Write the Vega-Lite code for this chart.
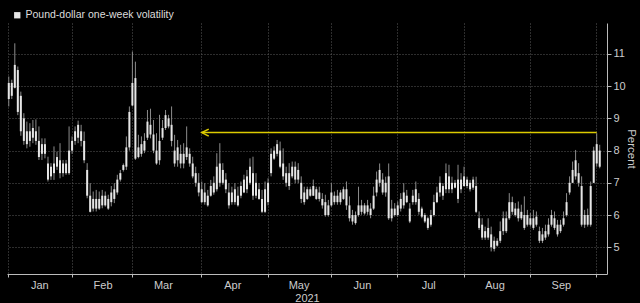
{
"$schema": "https://vega.github.io/schema/vega-lite/v6.json",
"width": 600, "height": 251,
"autosize": {"type": "none"},
"padding": {"left": 7, "top": 23, "right": 33, "bottom": 29},
"background": "#000000",
"config": {"view": {"stroke": null}, "font": "Liberation Sans"},
"datasets": {
"vol": [
{"d":"2021-01-01","l":9.37,"h":10.3,"o":9.6,"c":10.1},
{"d":"2021-01-04","l":9.6,"h":10.2,"o":9.7,"c":10.1},
{"d":"2021-01-05","l":9.93,"h":11.33,"o":9.95,"c":10.66},
{"d":"2021-01-06","l":9.1,"h":10.61,"o":9.2,"c":10.5},
{"d":"2021-01-07","l":8.46,"h":9.83,"o":8.6,"c":9.7},
{"d":"2021-01-08","l":8.18,"h":9.16,"o":8.3,"c":9.0},
{"d":"2021-01-11","l":8.07,"h":8.9,"o":8.2,"c":8.6},
{"d":"2021-01-12","l":8.12,"h":8.85,"o":8.3,"c":8.6},
{"d":"2021-01-13","l":8.23,"h":8.95,"o":8.4,"c":8.7},
{"d":"2021-01-14","l":8.18,"h":8.97,"o":8.3,"c":8.6},
{"d":"2021-01-15","l":7.71,"h":8.75,"o":7.8,"c":8.3},
{"d":"2021-01-18","l":7.71,"h":8.38,"o":7.9,"c":8.2},
{"d":"2021-01-19","l":7.76,"h":8.38,"o":7.9,"c":8.2},
{"d":"2021-01-20","l":7.04,"h":7.81,"o":7.1,"c":7.6},
{"d":"2021-01-21","l":7.09,"h":7.61,"o":7.2,"c":7.5},
{"d":"2021-01-22","l":7.09,"h":8.13,"o":7.3,"c":7.6},
{"d":"2021-01-25","l":7.4,"h":7.97,"o":7.5,"c":7.8},
{"d":"2021-01-26","l":7.14,"h":8.23,"o":7.3,"c":7.7},
{"d":"2021-01-27","l":7.19,"h":7.71,"o":7.3,"c":7.6},
{"d":"2021-01-28","l":7.25,"h":7.71,"o":7.3,"c":7.6},
{"d":"2021-01-29","l":7.25,"h":8.75,"o":7.3,"c":8.0},
{"d":"2021-02-01","l":7.9,"h":8.44,"o":8.0,"c":8.3},
{"d":"2021-02-02","l":8.18,"h":8.75,"o":8.3,"c":8.6},
{"d":"2021-02-03","l":8.23,"h":8.93,"o":8.4,"c":8.8},
{"d":"2021-02-04","l":8.13,"h":8.8,"o":8.3,"c":8.6},
{"d":"2021-02-05","l":7.61,"h":8.59,"o":7.7,"c":8.3},
{"d":"2021-02-08","l":6.52,"h":7.61,"o":6.6,"c":7.4},
{"d":"2021-02-09","l":6.08,"h":6.99,"o":6.1,"c":6.6},
{"d":"2021-02-10","l":6.11,"h":6.73,"o":6.2,"c":6.5},
{"d":"2021-02-11","l":6.11,"h":6.78,"o":6.2,"c":6.5},
{"d":"2021-02-12","l":6.16,"h":6.73,"o":6.2,"c":6.5},
{"d":"2021-02-15","l":6.21,"h":6.78,"o":6.3,"c":6.6},
{"d":"2021-02-16","l":6.26,"h":6.73,"o":6.3,"c":6.6},
{"d":"2021-02-17","l":6.16,"h":6.63,"o":6.2,"c":6.5},
{"d":"2021-02-18","l":6.27,"h":6.9,"o":6.4,"c":6.7},
{"d":"2021-02-19","l":6.37,"h":6.99,"o":6.5,"c":6.8},
{"d":"2021-02-22","l":6.63,"h":7.25,"o":6.7,"c":7.1},
{"d":"2021-02-23","l":7.04,"h":7.4,"o":7.1,"c":7.3},
{"d":"2021-02-24","l":7.35,"h":7.6,"o":7.4,"c":7.55},
{"d":"2021-02-25","l":7.4,"h":8.44,"o":7.5,"c":8.1},
{"d":"2021-02-26","l":8.0,"h":9.37,"o":8.1,"c":9.2},
{"d":"2021-03-01","l":9.37,"h":11.07,"o":9.4,"c":10.1},
{"d":"2021-03-02","l":7.71,"h":10.76,"o":7.75,"c":10.25},
{"d":"2021-03-03","l":7.76,"h":8.49,"o":7.8,"c":8.1},
{"d":"2021-03-04","l":7.81,"h":8.44,"o":7.9,"c":8.2},
{"d":"2021-03-05","l":7.92,"h":8.54,"o":8.0,"c":8.3},
{"d":"2021-03-08","l":8.33,"h":9.26,"o":8.4,"c":8.9},
{"d":"2021-03-09","l":8.38,"h":9.3,"o":8.5,"c":8.8},
{"d":"2021-03-10","l":7.92,"h":8.95,"o":8.0,"c":8.5},
{"d":"2021-03-11","l":7.56,"h":8.54,"o":7.6,"c":8.0},
{"d":"2021-03-12","l":7.56,"h":9.11,"o":7.7,"c":8.3},
{"d":"2021-03-15","l":8.33,"h":8.95,"o":8.4,"c":8.7},
{"d":"2021-03-16","l":8.64,"h":9.26,"o":8.7,"c":9.1},
{"d":"2021-03-17","l":8.69,"h":9.11,"o":8.75,"c":9.0},
{"d":"2021-03-18","l":8.13,"h":9.37,"o":8.3,"c":8.8},
{"d":"2021-03-19","l":7.5,"h":8.49,"o":7.6,"c":8.0},
{"d":"2021-03-22","l":7.5,"h":8.33,"o":7.7,"c":8.1},
{"d":"2021-03-23","l":7.45,"h":8.18,"o":7.6,"c":7.9},
{"d":"2021-03-24","l":7.45,"h":8.23,"o":7.6,"c":7.9},
{"d":"2021-03-25","l":7.71,"h":8.75,"o":7.8,"c":8.1},
{"d":"2021-03-26","l":7.5,"h":8.07,"o":7.6,"c":7.9},
{"d":"2021-03-29","l":7.14,"h":7.81,"o":7.2,"c":7.6},
{"d":"2021-03-30","l":6.88,"h":7.5,"o":7.0,"c":7.3},
{"d":"2021-03-31","l":6.58,"h":7.3,"o":6.7,"c":7.0},
{"d":"2021-04-01","l":6.37,"h":7.04,"o":6.4,"c":6.8},
{"d":"2021-04-02","l":6.32,"h":6.99,"o":6.4,"c":6.7},
{"d":"2021-04-05","l":6.26,"h":6.78,"o":6.3,"c":6.6},
{"d":"2021-04-06","l":6.57,"h":7.09,"o":6.6,"c":6.9},
{"d":"2021-04-07","l":6.63,"h":7.2,"o":6.7,"c":7.0},
{"d":"2021-04-08","l":6.73,"h":7.92,"o":6.8,"c":7.5},
{"d":"2021-04-09","l":6.88,"h":8.23,"o":7.0,"c":7.6},
{"d":"2021-04-12","l":6.94,"h":7.61,"o":7.0,"c":7.4},
{"d":"2021-04-13","l":6.68,"h":7.3,"o":6.8,"c":7.1},
{"d":"2021-04-14","l":6.2,"h":6.99,"o":6.3,"c":6.7},
{"d":"2021-04-15","l":6.32,"h":6.88,"o":6.4,"c":6.7},
{"d":"2021-04-16","l":6.32,"h":6.99,"o":6.4,"c":6.8},
{"d":"2021-04-19","l":6.26,"h":6.88,"o":6.3,"c":6.6},
{"d":"2021-04-20","l":6.52,"h":7.04,"o":6.6,"c":6.9},
{"d":"2021-04-21","l":6.68,"h":7.25,"o":6.7,"c":7.1},
{"d":"2021-04-22","l":6.68,"h":7.4,"o":6.8,"c":7.2},
{"d":"2021-04-23","l":6.94,"h":7.76,"o":7.0,"c":7.5},
{"d":"2021-04-26","l":6.47,"h":7.81,"o":6.6,"c":7.3},
{"d":"2021-04-27","l":6.52,"h":7.3,"o":6.6,"c":7.0},
{"d":"2021-04-28","l":6.47,"h":6.99,"o":6.5,"c":6.8},
{"d":"2021-04-29","l":6.06,"h":6.78,"o":6.1,"c":6.5},
{"d":"2021-04-30","l":6.06,"h":7.04,"o":6.1,"c":6.8},
{"d":"2021-05-03","l":6.3,"h":7.14,"o":6.4,"c":7.0},
{"d":"2021-05-04","l":7.2,"h":8.07,"o":7.3,"c":7.9},
{"d":"2021-05-05","l":7.71,"h":8.13,"o":7.75,"c":8.0},
{"d":"2021-05-06","l":7.82,"h":8.33,"o":7.9,"c":8.2},
{"d":"2021-05-07","l":7.45,"h":8.28,"o":7.5,"c":8.0},
{"d":"2021-05-10","l":7.09,"h":8.07,"o":7.2,"c":7.6},
{"d":"2021-05-11","l":6.88,"h":7.5,"o":7.0,"c":7.3},
{"d":"2021-05-12","l":6.78,"h":7.61,"o":6.9,"c":7.3},
{"d":"2021-05-13","l":7.14,"h":7.66,"o":7.2,"c":7.5},
{"d":"2021-05-14","l":6.99,"h":7.66,"o":7.1,"c":7.5},
{"d":"2021-05-17","l":6.99,"h":7.61,"o":7.1,"c":7.4},
{"d":"2021-05-18","l":6.37,"h":7.2,"o":6.5,"c":7.0},
{"d":"2021-05-19","l":6.32,"h":6.88,"o":6.4,"c":6.7},
{"d":"2021-05-20","l":6.47,"h":6.88,"o":6.5,"c":6.8},
{"d":"2021-05-21","l":6.57,"h":6.88,"o":6.6,"c":6.8},
{"d":"2021-05-24","l":6.59,"h":7.1,"o":6.6,"c":6.9},
{"d":"2021-05-25","l":6.47,"h":6.88,"o":6.5,"c":6.8},
{"d":"2021-05-26","l":6.42,"h":6.88,"o":6.5,"c":6.7},
{"d":"2021-05-27","l":6.2,"h":6.68,"o":6.3,"c":6.5},
{"d":"2021-05-28","l":5.95,"h":6.63,"o":6.0,"c":6.4},
{"d":"2021-05-31","l":5.95,"h":6.47,"o":6.0,"c":6.3},
{"d":"2021-06-01","l":6.26,"h":6.99,"o":6.3,"c":6.7},
{"d":"2021-06-02","l":6.32,"h":6.73,"o":6.4,"c":6.6},
{"d":"2021-06-03","l":6.32,"h":6.78,"o":6.4,"c":6.6},
{"d":"2021-06-04","l":6.32,"h":6.78,"o":6.4,"c":6.7},
{"d":"2021-06-07","l":6.47,"h":6.88,"o":6.5,"c":6.8},
{"d":"2021-06-08","l":6.16,"h":7.04,"o":6.3,"c":6.8},
{"d":"2021-06-09","l":5.8,"h":6.58,"o":5.9,"c":6.3},
{"d":"2021-06-10","l":5.7,"h":6.16,"o":5.8,"c":6.0},
{"d":"2021-06-11","l":5.7,"h":6.11,"o":5.75,"c":6.0},
{"d":"2021-06-14","l":5.95,"h":6.88,"o":6.0,"c":6.3},
{"d":"2021-06-15","l":6.01,"h":6.47,"o":6.1,"c":6.3},
{"d":"2021-06-16","l":6.01,"h":6.37,"o":6.05,"c":6.3},
{"d":"2021-06-17","l":6.01,"h":6.47,"o":6.1,"c":6.3},
{"d":"2021-06-18","l":5.9,"h":6.37,"o":6.0,"c":6.2},
{"d":"2021-06-21","l":6.16,"h":6.88,"o":6.2,"c":6.6},
{"d":"2021-06-22","l":6.58,"h":7.35,"o":6.7,"c":7.1},
{"d":"2021-06-23","l":6.88,"h":7.6,"o":7.0,"c":7.4},
{"d":"2021-06-24","l":6.63,"h":7.3,"o":6.7,"c":7.1},
{"d":"2021-06-25","l":6.57,"h":7.19,"o":6.7,"c":7.0},
{"d":"2021-06-28","l":5.85,"h":7.6,"o":5.9,"c":7.2},
{"d":"2021-06-29","l":5.8,"h":6.47,"o":5.9,"c":6.2},
{"d":"2021-06-30","l":5.95,"h":6.37,"o":6.0,"c":6.2},
{"d":"2021-07-01","l":5.95,"h":6.42,"o":6.0,"c":6.3},
{"d":"2021-07-02","l":6.11,"h":6.68,"o":6.2,"c":6.5},
{"d":"2021-07-05","l":6.2,"h":6.99,"o":6.3,"c":6.7},
{"d":"2021-07-06","l":6.37,"h":6.78,"o":6.4,"c":6.6},
{"d":"2021-07-07","l":5.75,"h":6.37,"o":5.8,"c":6.2},
{"d":"2021-07-08","l":6.32,"h":6.78,"o":6.4,"c":6.6},
{"d":"2021-07-09","l":6.32,"h":7.04,"o":6.4,"c":6.8},
{"d":"2021-07-12","l":6.01,"h":6.68,"o":6.1,"c":6.5},
{"d":"2021-07-13","l":5.9,"h":6.26,"o":5.95,"c":6.2},
{"d":"2021-07-14","l":5.75,"h":6.06,"o":5.8,"c":6.0},
{"d":"2021-07-15","l":5.54,"h":5.95,"o":5.6,"c":5.9},
{"d":"2021-07-16","l":5.64,"h":6.16,"o":5.7,"c":6.0},
{"d":"2021-07-19","l":5.95,"h":6.63,"o":6.0,"c":6.4},
{"d":"2021-07-20","l":6.37,"h":6.88,"o":6.4,"c":6.7},
{"d":"2021-07-21","l":6.57,"h":7.2,"o":6.7,"c":7.0},
{"d":"2021-07-22","l":6.47,"h":6.99,"o":6.6,"c":6.9},
{"d":"2021-07-23","l":6.68,"h":7.6,"o":6.8,"c":7.3},
{"d":"2021-07-26","l":6.68,"h":7.56,"o":6.8,"c":7.2},
{"d":"2021-07-27","l":6.68,"h":7.19,"o":6.8,"c":7.0},
{"d":"2021-07-28","l":6.83,"h":7.09,"o":6.85,"c":7.0},
{"d":"2021-07-29","l":6.37,"h":7.56,"o":6.5,"c":7.1},
{"d":"2021-07-30","l":6.68,"h":7.3,"o":6.8,"c":7.1},
{"d":"2021-08-02","l":6.88,"h":7.5,"o":6.9,"c":7.2},
{"d":"2021-08-03","l":6.83,"h":7.19,"o":6.9,"c":7.1},
{"d":"2021-08-04","l":6.73,"h":7.09,"o":6.8,"c":7.0},
{"d":"2021-08-05","l":6.78,"h":7.19,"o":6.85,"c":7.1},
{"d":"2021-08-06","l":6.06,"h":7.19,"o":6.1,"c":6.9},
{"d":"2021-08-09","l":5.54,"h":6.11,"o":5.6,"c":5.9},
{"d":"2021-08-10","l":5.23,"h":5.9,"o":5.3,"c":5.7},
{"d":"2021-08-11","l":5.23,"h":5.64,"o":5.3,"c":5.5},
{"d":"2021-08-12","l":5.23,"h":5.9,"o":5.3,"c":5.6},
{"d":"2021-08-13","l":4.87,"h":5.64,"o":5.0,"c":5.4},
{"d":"2021-08-16","l":4.87,"h":5.33,"o":4.95,"c":5.2},
{"d":"2021-08-17","l":5.02,"h":5.28,"o":5.05,"c":5.2},
{"d":"2021-08-18","l":5.13,"h":5.8,"o":5.2,"c":5.5},
{"d":"2021-08-19","l":5.38,"h":6.11,"o":5.5,"c":5.9},
{"d":"2021-08-20","l":5.44,"h":6.11,"o":5.5,"c":5.9},
{"d":"2021-08-23","l":5.85,"h":6.68,"o":5.9,"c":6.4},
{"d":"2021-08-24","l":6.01,"h":6.57,"o":6.1,"c":6.4},
{"d":"2021-08-25","l":5.95,"h":6.37,"o":6.0,"c":6.2},
{"d":"2021-08-26","l":5.8,"h":6.42,"o":5.9,"c":6.2},
{"d":"2021-08-27","l":5.85,"h":6.32,"o":5.9,"c":6.1},
{"d":"2021-08-30","l":5.54,"h":6.58,"o":5.6,"c":6.0},
{"d":"2021-08-31","l":5.64,"h":6.16,"o":5.7,"c":6.0},
{"d":"2021-09-01","l":5.64,"h":6.06,"o":5.7,"c":5.9},
{"d":"2021-09-02","l":5.54,"h":6.16,"o":5.6,"c":5.9},
{"d":"2021-09-03","l":5.64,"h":6.11,"o":5.7,"c":5.95},
{"d":"2021-09-06","l":5.13,"h":5.64,"o":5.2,"c":5.5},
{"d":"2021-09-07","l":5.13,"h":5.6,"o":5.2,"c":5.4},
{"d":"2021-09-08","l":5.23,"h":5.7,"o":5.3,"c":5.5},
{"d":"2021-09-09","l":5.33,"h":5.9,"o":5.4,"c":5.7},
{"d":"2021-09-10","l":5.64,"h":6.16,"o":5.7,"c":6.0},
{"d":"2021-09-13","l":5.54,"h":6.11,"o":5.6,"c":5.9},
{"d":"2021-09-14","l":5.33,"h":5.85,"o":5.4,"c":5.7},
{"d":"2021-09-15","l":5.44,"h":5.85,"o":5.5,"c":5.7},
{"d":"2021-09-16","l":5.64,"h":6.11,"o":5.7,"c":5.9},
{"d":"2021-09-17","l":5.95,"h":6.68,"o":6.0,"c":6.4},
{"d":"2021-09-20","l":6.63,"h":7.2,"o":6.7,"c":7.0},
{"d":"2021-09-21","l":6.99,"h":7.66,"o":7.0,"c":7.4},
{"d":"2021-09-22","l":7.1,"h":8.02,"o":7.2,"c":7.7},
{"d":"2021-09-23","l":6.88,"h":7.61,"o":7.0,"c":7.3},
{"d":"2021-09-24","l":5.64,"h":7.2,"o":5.7,"c":6.9},
{"d":"2021-09-27","l":5.6,"h":6.16,"o":5.7,"c":6.0},
{"d":"2021-09-28","l":5.64,"h":6.2,"o":5.7,"c":6.0},
{"d":"2021-09-29","l":5.64,"h":7.04,"o":5.7,"c":6.9},
{"d":"2021-09-30","l":6.99,"h":8.12,"o":7.0,"c":8.0},
{"d":"2021-10-01","l":7.5,"h":8.54,"o":7.6,"c":8.2},
{"d":"2021-10-04","l":7.45,"h":8.18,"o":7.5,"c":8.0}
],
"arrow": [{"d0":"2021-04-01","d1":"2021-10-01","v":8.56}]
},
"layer": [
{
"data": {"name": "vol"},
"mark": {"type": "rule", "color": "#8c8c8c", "strokeWidth": 1},
"encoding": {
"x": {"field": "d", "type": "ordinal", "sort": "ascending",
"scale": {"type": "band", "paddingInner": 0, "paddingOuter": 1.935, "align": 0.044},
"axis": {
"values": ["2021-01-01","2021-02-01","2021-03-01","2021-04-01","2021-05-03","2021-06-01","2021-07-01","2021-08-02","2021-09-01","2021-10-01"],
"labelExpr": "datum.value == '2021-10-01' ? '' : utcFormat(toDate(datum.value), '%b')",
"labelAngle": 0, "labelOffset": 31, "labelPadding": 2, "labelColor": "#cccccc", "labelFontSize": 11,
"labelOverlap": false, "labelFlush": false, "labelBound": false, "labelAlign": "center",
"tickSize": 3, "tickColor": "#bbbbbb", "domainColor": "#bbbbbb",
"grid": true, "gridColor": "#5a5a5a", "gridDash": [1, 2],
"title": "2021", "titleColor": "#cccccc", "titleFontSize": 11, "titleFontWeight": "normal", "titlePadding": 2
}},
"y": {"field": "l", "type": "quantitative",
"scale": {"domain": [4.17, 11.96], "nice": false, "zero": false},
"axis": {
"orient": "right",
"values": [5,6,7,8,9,10,11],
"labelColor": "#cccccc", "labelFontSize": 11, "labelPadding": 2,
"tickColor": "#bbbbbb", "domainColor": "#bbbbbb", "tickSize": 4,
"grid": true, "gridColor": "#5a5a5a", "gridDash": [1, 2],
"title": "Percent", "titleColor": "#cccccc", "titleFontSize": 11.5, "titleFontWeight": "normal", "titleAngle": 90, "titlePadding": 0
}},
"y2": {"field": "h"}
}
},
{
"data": {"name": "vol"},
"mark": {"type": "bar", "size": 2},
"encoding": {
"x": {"field": "d", "type": "ordinal", "sort": "ascending", "scale": {"type": "band", "paddingInner": 0, "paddingOuter": 1.935, "align": 0.044}},
"y": {"field": "o", "type": "quantitative", "scale": {"domain": [4.17, 11.96], "nice": false, "zero": false}},
"y2": {"field": "c"},
"color": {"datum": "Pound-dollar one-week volatility", "type": "nominal", "scale": {"range": ["#e6e6e6"]},
"legend": {"orient": "none", "legendX": 5, "legendY": -13, "title": null, "labelColor": "#dddddd", "labelFontSize": 10.5, "symbolType": "square", "symbolSize": 40, "symbolStrokeWidth": 0, "padding": 0, "labelOffset": 3}}
}
},
{
"data": {"name": "arrow"},
"mark": {"type": "rule", "color": "#dccb00", "strokeWidth": 1.5},
"encoding": {
"x": {"field": "d0", "type": "ordinal", "scale": {"type": "band", "paddingInner": 0, "paddingOuter": 1.935, "align": 0.044}},
"x2": {"field": "d1"},
"y": {"field": "v", "type": "quantitative"}
}
},
{
"data": {"name": "arrow"},
"mark": {"type": "point", "shape": "M2,-1L0,0L2,1", "filled": false, "color": "#dccb00", "strokeWidth": 1.5, "size": 49, "opacity": 1},
"encoding": {
"x": {"field": "d0", "type": "ordinal", "scale": {"type": "band", "paddingInner": 0, "paddingOuter": 1.935, "align": 0.044}},
"y": {"field": "v", "type": "quantitative"}
}
}
]
}
